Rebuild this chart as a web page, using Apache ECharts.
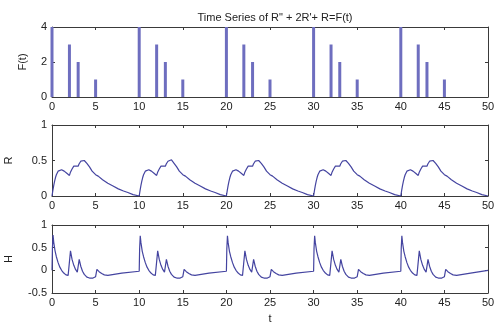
<!DOCTYPE html>
<html>
<head>
<meta charset="utf-8">
<script src="https://cdn.jsdelivr.net/npm/echarts@6/dist/echarts.min.js"></script>
<style>
html,body{margin:0;padding:0;background:#fff;}
#c{width:494px;height:326px;}
</style>
</head>
<body>
<div id="c"></div>
<script>
// ---- data ----
const titleText = 'Time Series of R" + 2R\'+ R=F(t)';
const xTicks = [0, 5, 10, 15, 20, 25, 30, 35, 40, 45, 50];
const fTicks = [0, 2, 4];
const rTicks = [0, 0.5, 1];
const hTicks = [-0.5, 0, 0.5, 1];

// forcing F(t): stems
const fTimes = [0, 2, 3, 5, 10, 12, 13, 15, 20, 22, 23, 25, 30, 32, 33, 35, 40, 42, 43, 45];
const fValues = [4, 3, 2, 1, 4, 3, 2, 1, 4, 3, 2, 1, 4, 3, 2, 1, 4, 3, 2, 1];

// response R(t)
const rPoints = [
 [0,0],[0.1,0.08],[0.2,0.15],[0.3,0.21],[0.4,0.26],[0.5,0.3],[0.7,0.35],[0.9,0.37],[1.1,0.37],[1.4,0.35],[1.7,0.32],[2,0.29],[2.1,0.33],[2.3,0.38],[2.5,0.42],[2.7,0.43],[3,0.42],[3.1,0.45],[3.3,0.49],[3.5,0.5],[3.7,0.5],[4,0.46],[4.3,0.41],[4.6,0.35],[5,0.3],[5.3,0.28],[5.8,0.23],[6.4,0.18],[7,0.14],[7.6,0.1],[8.2,0.07],[8.7,0.05],[9.3,0.02],[10,0],
 [10.1,0.08],[10.2,0.15],[10.3,0.21],[10.4,0.26],[10.5,0.3],[10.7,0.35],[10.9,0.37],[11.1,0.37],[11.4,0.35],[11.7,0.32],[12,0.29],[12.1,0.33],[12.3,0.38],[12.5,0.42],[12.7,0.43],[13,0.42],[13.1,0.45],[13.3,0.49],[13.5,0.51],[13.7,0.51],[14,0.46],[14.3,0.41],[14.6,0.35],[15,0.3],[15.3,0.28],[15.8,0.23],[16.4,0.18],[17,0.14],[17.6,0.1],[18.2,0.07],[18.7,0.05],[19.3,0.02],[20,0],
 [20.1,0.08],[20.2,0.15],[20.3,0.21],[20.4,0.26],[20.5,0.3],[20.7,0.35],[20.9,0.37],[21.1,0.37],[21.4,0.35],[21.7,0.32],[22,0.29],[22.1,0.33],[22.3,0.38],[22.5,0.42],[22.7,0.43],[23,0.42],[23.1,0.45],[23.3,0.49],[23.5,0.5],[23.7,0.5],[24,0.46],[24.3,0.41],[24.6,0.35],[25,0.3],[25.3,0.28],[25.8,0.23],[26.4,0.18],[27,0.14],[27.6,0.1],[28.2,0.07],[28.7,0.05],[29.3,0.02],[30,0],
 [30.1,0.08],[30.2,0.15],[30.3,0.21],[30.4,0.26],[30.5,0.3],[30.7,0.35],[30.9,0.37],[31.1,0.37],[31.4,0.35],[31.7,0.32],[32,0.29],[32.1,0.33],[32.3,0.38],[32.5,0.42],[32.7,0.43],[33,0.42],[33.1,0.45],[33.3,0.49],[33.5,0.5],[33.7,0.5],[34,0.46],[34.3,0.41],[34.6,0.35],[35,0.3],[35.3,0.28],[35.8,0.23],[36.4,0.18],[37,0.14],[37.6,0.1],[38.2,0.07],[38.7,0.05],[39.3,0.02],[40,0],
 [40.1,0.08],[40.2,0.15],[40.3,0.21],[40.4,0.26],[40.5,0.3],[40.7,0.35],[40.9,0.37],[41.1,0.37],[41.4,0.35],[41.7,0.32],[42,0.29],[42.1,0.33],[42.3,0.38],[42.5,0.42],[42.7,0.43],[43,0.42],[43.1,0.45],[43.3,0.49],[43.5,0.5],[43.7,0.5],[44,0.46],[44.3,0.41],[44.6,0.35],[45,0.3],[45.3,0.28],[45.8,0.23],[46.4,0.18],[47,0.14],[47.6,0.1],[48.2,0.07],[48.7,0.05],[49.3,0.02],[50,0]
];

// H(t)
const hPoints = [
 [0,0],[0.05,0.5],[0.12,0.78],[0.2,0.62],[0.35,0.43],[0.5,0.3],[0.7,0.17],[0.9,0.07],[1.1,0],[1.35,-0.06],[1.6,-0.1],[1.85,-0.11],[2,-0.1],[2.12,0.43],[2.3,0.24],[2.5,0.11],[2.7,0.02],[2.9,-0.04],[3,-0.05],[3.12,0.24],[3.3,0.09],[3.5,-0.02],[3.7,-0.09],[4,-0.15],[4.3,-0.17],[4.7,-0.17],[5,-0.14],[5.15,0.02],[5.4,-0.03],[5.7,-0.07],[6,-0.1],[6.4,-0.11],[8,-0.06],[10,-0.02],
 [10.05,0.48],[10.12,0.76],[10.2,0.61],[10.35,0.42],[10.5,0.3],[10.7,0.17],[10.9,0.07],[11.1,0],[11.35,-0.06],[11.6,-0.1],[11.85,-0.11],[12,-0.1],[12.12,0.43],[12.3,0.24],[12.5,0.11],[12.7,0.02],[12.9,-0.04],[13,-0.05],[13.12,0.24],[13.3,0.09],[13.5,-0.02],[13.7,-0.09],[14,-0.15],[14.3,-0.17],[14.7,-0.17],[15,-0.14],[15.15,0.02],[15.4,-0.03],[15.7,-0.07],[16,-0.1],[16.4,-0.11],[18,-0.06],[20,-0.02],
 [20.05,0.48],[20.12,0.76],[20.2,0.61],[20.35,0.42],[20.5,0.3],[20.7,0.17],[20.9,0.07],[21.1,0],[21.35,-0.06],[21.6,-0.1],[21.85,-0.11],[22,-0.1],[22.12,0.43],[22.3,0.24],[22.5,0.11],[22.7,0.02],[22.9,-0.04],[23,-0.05],[23.12,0.24],[23.3,0.09],[23.5,-0.02],[23.7,-0.09],[24,-0.15],[24.3,-0.17],[24.7,-0.17],[25,-0.14],[25.15,0.02],[25.4,-0.03],[25.7,-0.07],[26,-0.1],[26.4,-0.11],[28,-0.06],[30,-0.02],
 [30.05,0.48],[30.12,0.76],[30.2,0.61],[30.35,0.42],[30.5,0.3],[30.7,0.17],[30.9,0.07],[31.1,0],[31.35,-0.06],[31.6,-0.1],[31.85,-0.11],[32,-0.1],[32.12,0.43],[32.3,0.24],[32.5,0.11],[32.7,0.02],[32.9,-0.04],[33,-0.05],[33.12,0.24],[33.3,0.09],[33.5,-0.02],[33.7,-0.09],[34,-0.15],[34.3,-0.17],[34.7,-0.17],[35,-0.14],[35.15,0.02],[35.4,-0.03],[35.7,-0.07],[36,-0.1],[36.4,-0.11],[38,-0.06],[40,-0.02],
 [40.05,0.48],[40.12,0.76],[40.2,0.61],[40.35,0.42],[40.5,0.3],[40.7,0.17],[40.9,0.07],[41.1,0],[41.35,-0.06],[41.6,-0.1],[41.85,-0.11],[42,-0.1],[42.12,0.43],[42.3,0.24],[42.5,0.11],[42.7,0.02],[42.9,-0.04],[43,-0.05],[43.12,0.24],[43.3,0.09],[43.5,-0.02],[43.7,-0.09],[44,-0.15],[44.3,-0.17],[44.7,-0.17],[45,-0.14],[45.15,0.02],[45.4,-0.03],[45.7,-0.07],[46,-0.1],[46.4,-0.11],[48,-0.06],[50,0]
];

// ---- chart ----
const FONT = 'Liberation Sans, Arial, sans-serif';
const AX = '#3a3a3a';
const TXT = '#222';
const LINE = '#4444a0';
const BAR = '#6e6ebf';

const grids = [
  {left: 52, right: 6, top: 27, height: 70, containLabel: false, outerBoundsMode: 'none'},
  {left: 52, right: 6, top: 125, height: 71, containLabel: false, outerBoundsMode: 'none'},
  {left: 52, right: 6, top: 225, height: 68, containLabel: false, outerBoundsMode: 'none'}
];

function xAx(gi, bottom, name) {
  return {
    type: 'value', gridIndex: gi, min: 0, max: 50, interval: 5,
    position: bottom ? 'bottom' : 'top',
    name: name || '', nameLocation: 'middle', nameGap: 20,
    nameTextStyle: {fontFamily: FONT, fontSize: 11, color: TXT},
    axisLine: {show: true, onZero: false, lineStyle: {color: AX, width: 1}},
    axisTick: {show: true, inside: true, length: 3, lineStyle: {color: AX}},
    axisLabel: {show: bottom, margin: 4, fontFamily: FONT, fontSize: 11, color: TXT},
    splitLine: {show: false}
  };
}
function yAx(gi, left, min, max, interval, name, gap) {
  return {
    type: 'value', gridIndex: gi, min: min, max: max, interval: interval,
    position: left ? 'left' : 'right',
    name: left ? name : '', nameLocation: 'middle', nameGap: gap || 30, nameRotate: 90,
    nameTextStyle: {fontFamily: FONT, fontSize: 11, color: TXT},
    axisLine: {show: true, onZero: false, lineStyle: {color: AX, width: 1}},
    axisTick: {show: true, inside: true, length: 3, lineStyle: {color: AX}},
    axisLabel: {show: left, margin: 5, fontFamily: FONT, fontSize: 11, color: TXT},
    splitLine: {show: false}
  };
}

const option = {
  backgroundColor: '#fff',
  animation: false,
  title: {
    text: titleText, left: 270, top: 7, textAlign: 'center',
    textStyle: {fontFamily: FONT, fontSize: 11, fontWeight: 'normal', color: TXT}
  },
  grid: grids,
  xAxis: [xAx(0, true), xAx(0, false), xAx(1, true), xAx(1, false), xAx(2, true, 't'), xAx(2, false)],
  yAxis: [
    yAx(0, true, 0, 4, 2, 'F(t)', 24), yAx(0, false, 0, 4, 2),
    yAx(1, true, 0, 1, 0.5, 'R', 38), yAx(1, false, 0, 1, 0.5),
    yAx(2, true, -0.5, 1, 0.5, 'H', 38), yAx(2, false, -0.5, 1, 0.5)
  ],
  series: [
    {
      type: 'bar', xAxisIndex: 0, yAxisIndex: 0, barWidth: 3, clip: true,
      itemStyle: {color: BAR},
      data: fTimes.map((t, i) => [t, fValues[i]])
    },
    {
      type: 'line', xAxisIndex: 2, yAxisIndex: 2, showSymbol: false, smooth: false,
      lineStyle: {color: LINE, width: 1.2}, data: rPoints
    },
    {
      type: 'line', xAxisIndex: 4, yAxisIndex: 4, showSymbol: false, smooth: false,
      lineStyle: {color: LINE, width: 1.2}, data: hPoints
    }
  ]
};

const chart = echarts.init(document.getElementById('c'), null, {renderer: 'canvas'});
chart.setOption(option);
</script>
</body>
</html>
